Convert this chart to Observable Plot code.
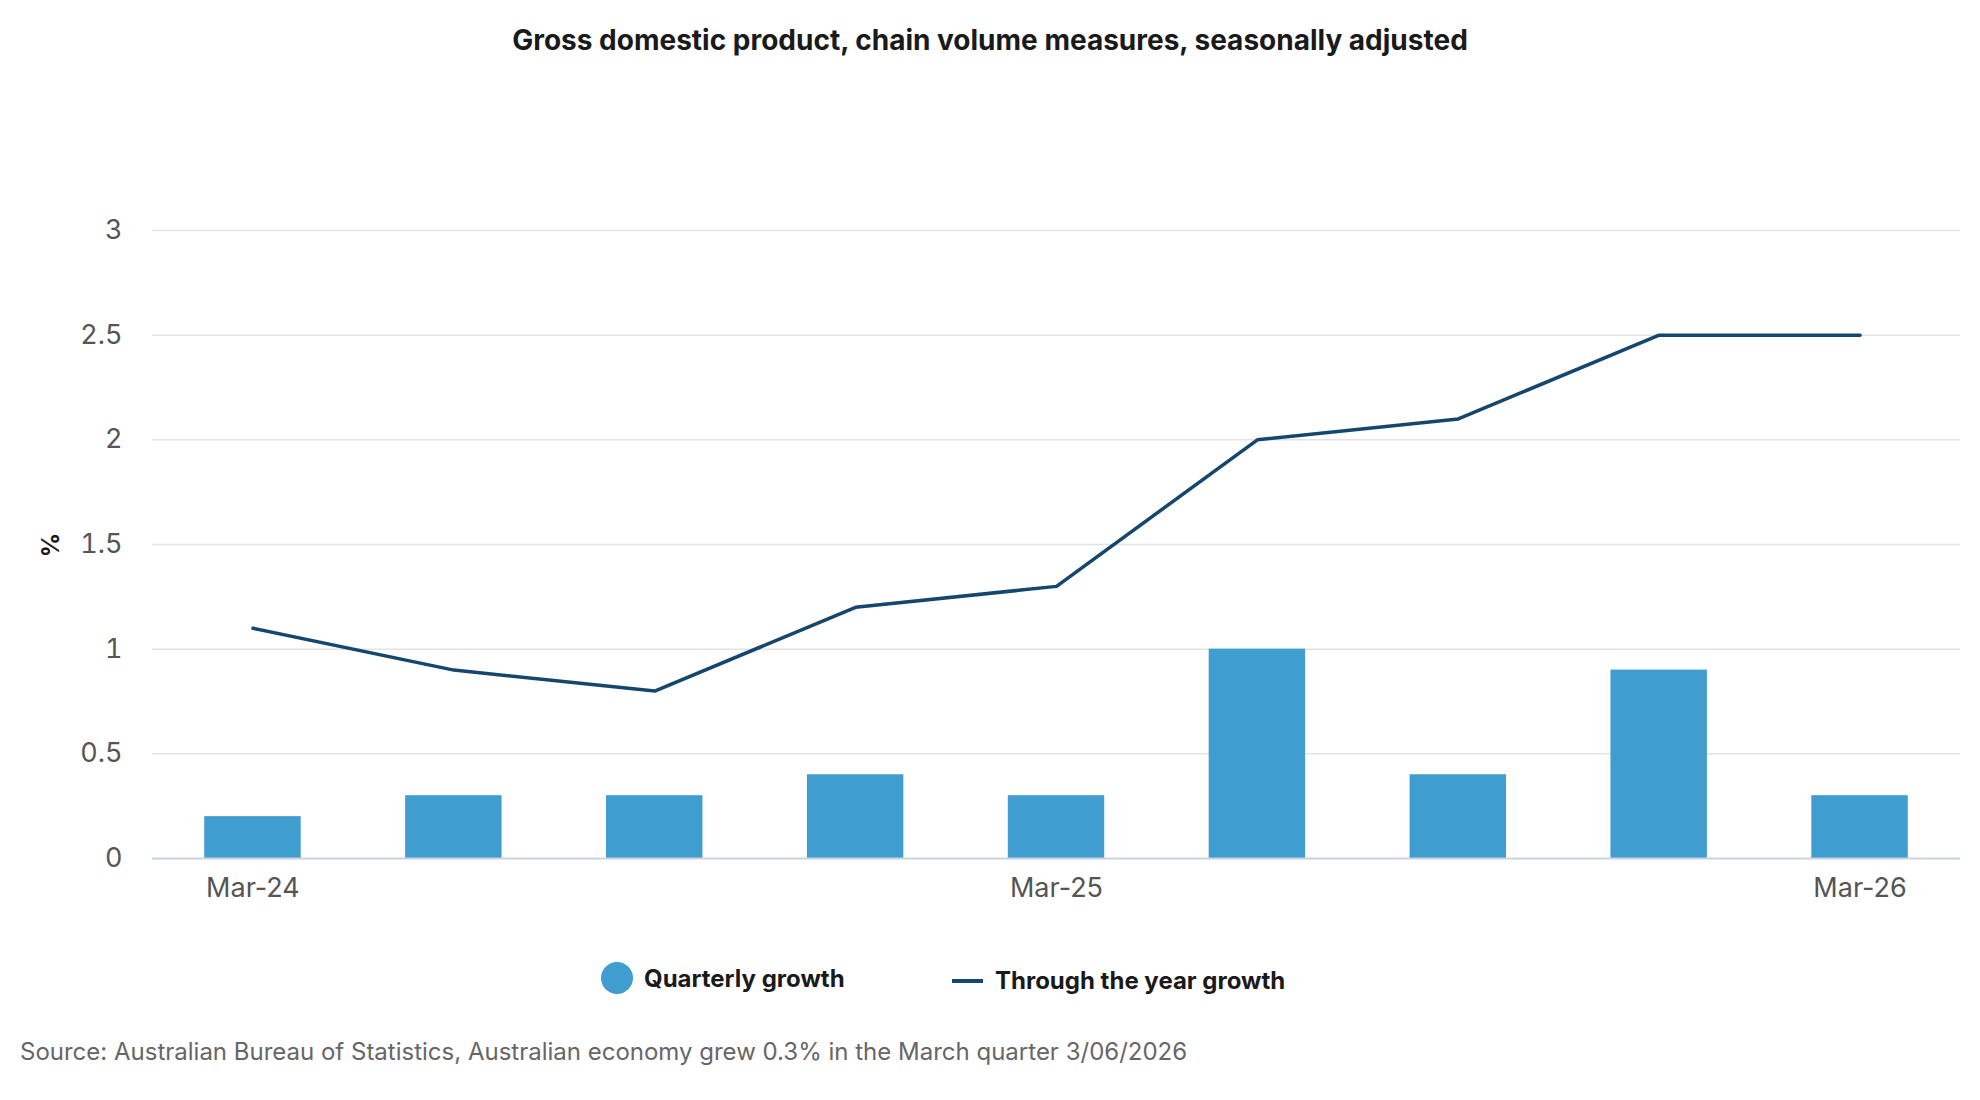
<!DOCTYPE html>
<html>
<head>
<meta charset="utf-8">
<script src="https://cdn.jsdelivr.net/npm/d3@7"></script>
<script src="https://cdn.jsdelivr.net/npm/@observablehq/plot@0.6"></script>
<style>
  html, body { margin: 0; padding: 0; background: #fff; }
  body { width: 1980px; height: 1100px; position: relative; font-family: Inter, "Noto Sans", sans-serif; overflow: hidden; }
  #title { position: absolute; top: 23px; left: 0; width: 1980px; text-align: center; font-weight: 700; font-size: 28px; color: #1a1a1a; }
  #chart { position: absolute; top: 190px; left: 0; }
  #legend { position: absolute; top: 962px; left: 0; width: 1980px; font-size: 24px; font-weight: 700; color: #1a1a1a; }
  .li { position: absolute; display: flex; align-items: center; }
  #caption { position: absolute; top: 1037px; left: 20px; font-size: 24px; color: #666; }
  #ylab { position: absolute; left: 38px; top: 545px; transform: translate(0,-50%) rotate(-90deg); font-size: 24px; font-weight: 700; color: #1a1a1a; transform-origin: center; }
</style>
</head>
<body>
<div id="title">Gross domestic product, chain volume measures, seasonally adjusted</div>
<div id="chart"></div>
<div id="ylab">%</div>
<div id="legend">
  <div class="li" style="left:601px;"><span style="display:inline-block;width:32px;height:32px;border-radius:50%;background:#3f9dd0;margin-right:11px;"></span><span>Quarterly growth</span></div>
  <div class="li" style="left:952px;top:4px;"><span style="display:inline-block;width:31px;height:4px;background:#14466e;margin-right:12px;"></span><span>Through the year growth</span></div>
</div>
<div id="caption">Source: Australian Bureau of Statistics, Australian economy grew 0.3% in the March quarter 3/06/2026</div>
<script>
const quarters = ["Mar-24","Jun-24","Sep-24","Dec-24","Mar-25","Jun-25","Sep-25","Dec-25","Mar-26"];
const quarterlyGrowth = [0.2, 0.3, 0.3, 0.4, 0.3, 1.0, 0.4, 0.9, 0.3];
const throughYearGrowth = [1.1, 0.9, 0.8, 1.2, 1.3, 2.0, 2.1, 2.5, 2.5];
const xTicks = ["Mar-24","Mar-25","Mar-26"];
const yTicks = [0, 0.5, 1, 1.5, 2, 2.5, 3];

const data = quarters.map((q, i) => ({q, bar: quarterlyGrowth[i], line: throughYearGrowth[i]}));

const plot = Plot.plot({
  width: 1980,
  height: 730,
  marginLeft: 152,
  marginRight: 20,
  marginTop: 40,
  marginBottom: 62,
  style: {fontFamily: "Inter, 'Noto Sans', sans-serif", fontSize: "27px", color: "#555", background: "transparent"},
  x: {domain: quarters, paddingInner: 0.52, paddingOuter: 0.26, round: false, label: null},
  y: {domain: [0, 3], label: null},
  marks: [
    Plot.ruleY(yTicks.filter(d => d > 0), {stroke: "#e3e3e3", strokeWidth: 1.5}),
    Plot.barY(data, {x: "q", y: "bar", fill: "#3f9dd0"}),
    Plot.ruleY([0], {stroke: "#c9d3e0", strokeWidth: 2}),
    Plot.lineY(data, {x: "q", y: "line", stroke: "#14466e", strokeWidth: 3.5}),
    Plot.axisY({ticks: yTicks, tickSize: 0, tickPadding: 30, label: null, fontSize: 27, fill: "#555", tickFormat: d => String(d)}),
    Plot.axisX({ticks: xTicks, tickSize: 0, tickPadding: 19, label: null, fontSize: 27, fill: "#555"})
  ]
});
document.getElementById("chart").appendChild(plot);
</script>
</body>
</html>
